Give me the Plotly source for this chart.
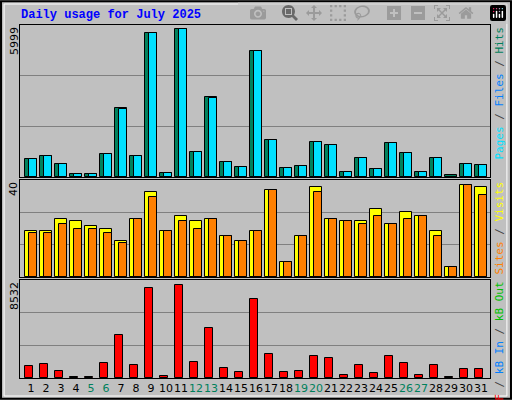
import plotly.graph_objects as go
from plotly.subplots import make_subplots

days = list(range(1, 32))
weekend = [5, 6, 12, 13, 19, 20, 26, 27]

hits = [727, 819, 502, 106, 106, 925, 2709, 819, 5682, 172, 5840, 1004, 3145, 608, 410, 4968,
        1480, 370, 449, 1401, 1282, 211, 766, 330, 1361, 965, 211, 766, 66, 529, 489]
pages = [727, 819, 502, 106, 106, 925, 2669, 819, 5682, 172, 5840, 1004, 3105, 608, 410, 4968,
         1480, 370, 449, 1401, 1282, 211, 766, 330, 1361, 965, 211, 766, 0, 529, 489]
visits = [19, 19, 24, 23, 21, 20, 15, 24, 35, 19, 25, 23, 24, 17, 15, 19,
          36, 6, 17, 37, 24, 23, 23, 28, 22, 27, 25, 19, 4, 38, 37]
sites = [18, 18, 22, 20, 20, 18, 14, 24, 33, 19, 23, 20, 24, 17, 15, 19,
         36, 6, 17, 35, 24, 23, 22, 25, 22, 24, 25, 17, 4, 38, 34]
kbytes = [1007, 1185, 652, 119, 119, 1274, 3762, 1096, 7851, 207, 8117, 1363, 4384, 829, 563, 6873,
          2074, 563, 652, 1896, 1718, 296, 1096, 474, 1896, 1274, 296, 1096, 119, 741, 741]

max_hits = 5999
max_visits = 40
max_kb = 8532

fig = make_subplots(rows=3, cols=1)

def bars(vals, color, offset, width, row):
    fig.add_trace(go.Bar(x=days, y=vals, marker_color=color, offset=offset, width=width,
                         marker_line=dict(color="black", width=1), showlegend=False), row=row, col=1)

bars(hits, "#00805c", -0.38, 0.76, 1)
bars(pages, "#00e0ff", -0.11, 0.49, 1)
bars(visits, "#ffff00", -0.38, 0.76, 2)
bars(sites, "#ff8000", -0.11, 0.49, 2)
bars(kbytes, "#ff0000", -0.38, 0.49, 3)

ticktext = [f'<span style="color:#00805c">{d}</span>' if d in weekend else str(d) for d in days]
doms = [[0.5575, 0.9375], [0.3075, 0.55], [0.055, 0.3]]
maxes = [max_hits, max_visits, max_kb]
for i in range(3):
    ax = "" if i == 0 else str(i + 1)
    fig.layout["xaxis" + ax].update(range=[0.27, 31.6], domain=[20 / 512, 490 / 512],
                                    showgrid=False, showline=True, linecolor="black", mirror=True,
                                    tickvals=days, ticktext=ticktext, showticklabels=(i == 2),
                                    ticks="", tickangle=0,
                                    tickfont=dict(family="DejaVu Sans", size=11, color="black"))
    m = maxes[i]
    fig.layout["yaxis" + ax].update(range=[0, m], domain=doms[i], tickvals=[m / 3, 2 * m / 3],
                                    showticklabels=False, gridcolor="#808080", gridwidth=1,
                                    showline=True, linecolor="black", mirror=True, zeroline=False)

# left max labels
for txt, ytop in [("5999", 0.9375), ("40", 0.55), ("8532", 0.3)]:
    fig.add_annotation(text=txt, xref="paper", yref="paper", x=14 / 512, y=ytop, textangle=-90,
                       xanchor="center", yanchor="top", showarrow=False,
                       font=dict(family="DejaVu Sans", size=11, color="black"))

sl = '<span style="color:#404040"> / </span>'
legends = [
    ('<span style="color:#00e0ff">Pages</span>' + sl + '<span style="color:#0080ff">Files</span>' + sl
     + '<span style="color:#00805c">Hits</span>', 0.9375),
    ('<span style="color:#ff8000">Sites</span>' + sl + '<span style="color:#ffff00">Visits</span>', 0.55),
    ('<span style="color:#ff0000">kB F</span>' + sl + '<span style="color:#0080ff">kB In</span>' + sl
     + '<span style="color:#00c000">kB Out</span>', 0.3),
]
for txt, ytop in legends:
    fig.add_annotation(text=txt, xref="paper", yref="paper", x=499 / 512, y=ytop, textangle=-90,
                       xanchor="center", yanchor="top", showarrow=False,
                       font=dict(family="DejaVu Sans Mono", size=11))

fig.add_annotation(text="<b>Daily usage for July 2025</b>", xref="paper", yref="paper",
                   x=19 / 512, y=1 - 15 / 400, xanchor="left", yanchor="middle", showarrow=False,
                   font=dict(family="Liberation Mono", size=12, color="#0000ff"))

# outer frame
fig.add_shape(type="rect", xref="paper", yref="paper", x0=0.002, y0=0.003, x1=0.998, y1=0.997,
              line=dict(color="black", width=2))
fig.add_shape(type="rect", xref="paper", yref="paper", x0=0.008, y0=0.01, x1=0.99, y1=0.99,
              line=dict(color="white", width=1))

fig.update_layout(width=512, height=400, margin=dict(l=0, r=0, t=0, b=0),
                  paper_bgcolor="#c0c0c0", plot_bgcolor="#c0c0c0", barmode="overlay",
                  bargap=0)
fig.write_html("out.html",
               post_script="document.body.style.margin='0';document.body.style.overflow='hidden';")
